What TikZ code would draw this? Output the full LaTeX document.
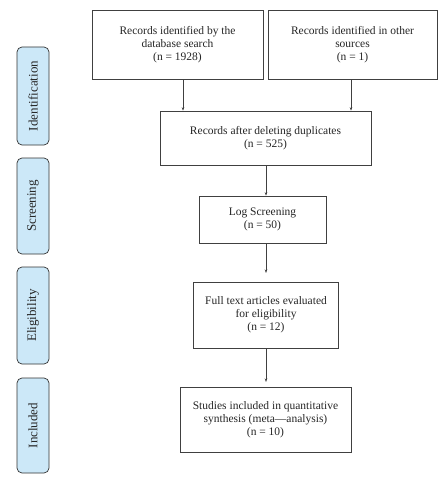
\documentclass[tikz,border=0pt]{standalone}
\usepackage{fontspec}
\setmainfont{Liberation Serif}
\usetikzlibrary{arrows.meta}
\begin{document}
\begin{tikzpicture}[x=1pt,y=-1pt,
  boxstyle/.style={draw=black!75, line width=0.7pt, fill=white, inner sep=0pt, align=center,
    font=\fontsize{11.5}{13}\selectfont, text=black!85},
  phase/.style={draw=black!80, line width=0.7pt, fill=cyan!8!blue!4!white, rounded corners=5pt, inner sep=0pt,
    font=\fontsize{13}{15}\selectfont, text=black!85},
  arr/.style={draw=black!75, line width=0.6pt, -{Stealth[length=3.5pt,width=2.5pt]}}]
\useasboundingbox (0,0) rectangle (441,484);
\fill[white] (0,0) rectangle (441,484);
\definecolor{phaseblue}{HTML}{CCE8F8}
% boxes
\node[boxstyle, minimum width=171pt, minimum height=69pt] (b1) at (177.5,44.5) {Records identified by the\\database search\\(n = 1928)};
\node[boxstyle, minimum width=169pt, minimum height=69pt] (b2) at (352.5,44.5) {Records identified in other\\sources\\(n = 1)};
\node[boxstyle, minimum width=211pt, minimum height=54pt] (b3) at (265.5,138) {Records after deleting duplicates\\(n = 525)};
\node[boxstyle, minimum width=127pt, minimum height=47pt] (b4) at (262.5,219.5) {Log Screening\\(n = 50)};
\node[boxstyle, minimum width=145pt, minimum height=66pt] (b5) at (266,315) {Full text articles evaluated\\for eligibility\\(n = 12)};
\node[boxstyle, minimum width=171pt, minimum height=65pt] (b6) at (265.5,419.5) {Studies included in quantitative\\synthesis (meta---analysis)\\(n = 10)};
% phase labels
\node[phase, fill=phaseblue, minimum width=32pt, minimum height=98pt] (p1) at (33,96) {\rotatebox{90}{Identification}};
\node[phase, fill=phaseblue, minimum width=32pt, minimum height=96pt] (p2) at (33,206) {\rotatebox{90}{Screening}};
\node[phase, fill=phaseblue, minimum width=32pt, minimum height=97pt] (p3) at (33,315.5) {\rotatebox{90}{Eligibility}};
\node[phase, fill=phaseblue, minimum width=32pt, minimum height=95pt] (p4) at (33,425.5) {\rotatebox{90}{Included}};
% arrows
\draw[arr] (b1.south -| 183,0) -- (b3.north -| 183,0);
\draw[arr] (b2.south -| 351,0) -- (b3.north -| 351,0);
\coordinate (a3s) at (266,165);
\draw[arr] (a3s) -- (b4.north -| a3s);
\coordinate (a4s) at (266,243);
\coordinate (a4e) at (266,273);
\draw[arr] (a4s) -- (a4e);
\coordinate (a5s) at (266,348);
\coordinate (a5e) at (266,382);
\draw[arr] (a5s) -- (a5e);
\end{tikzpicture}
\end{document}
